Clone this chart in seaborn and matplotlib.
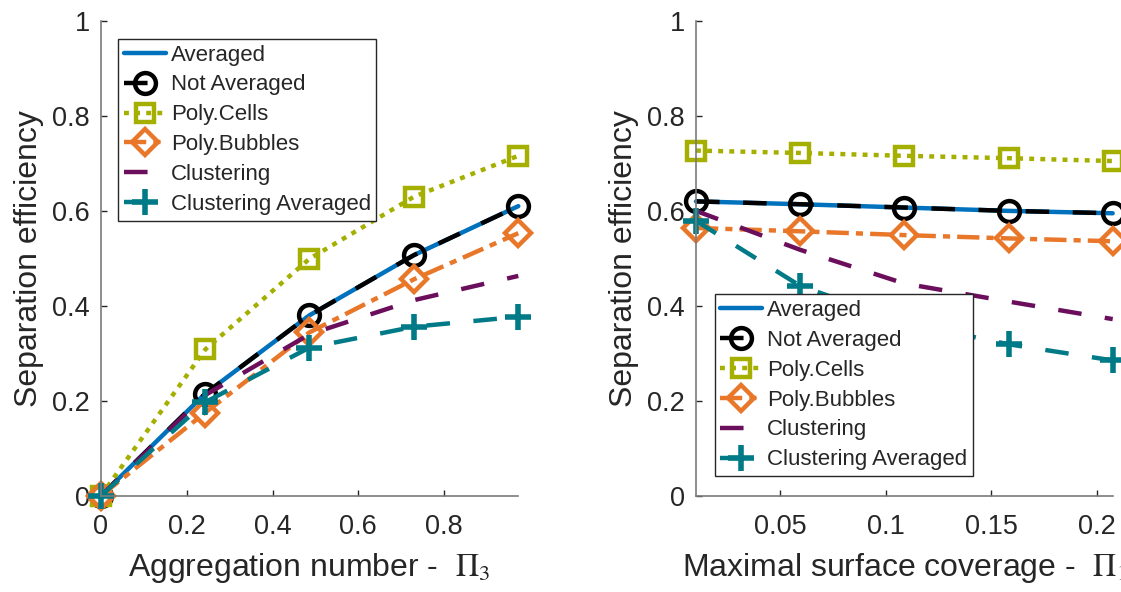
import numpy as np
import pandas as pd
import matplotlib
matplotlib.use("Agg")
import matplotlib.pyplot as plt
import seaborn as sns

# ---------------- data ----------------
series_names = ["Averaged", "Not Averaged", "Poly.Cells", "Poly.Bubbles",
                "Clustering", "Clustering Averaged"]

# Left panel: aggregation number Pi_3
x_left = [0.0, 0.243, 0.486, 0.730, 0.973]
left_averaged = [0.0, 0.215, 0.380, 0.507, 0.610]
left_not_averaged = [0.0, 0.215, 0.380, 0.507, 0.610]
left_poly_cells = [0.0, 0.308, 0.499, 0.630, 0.716]
left_poly_bubbles = [0.0, 0.175, 0.344, 0.456, 0.553]
left_clustering = [0.0, 0.212, 0.340, 0.412, 0.463]
left_clustering_avg = [0.0, 0.197, 0.312, 0.356, 0.377]

# Right panel: maximal surface coverage Pi_1
x_right = [0.0100, 0.0594, 0.1088, 0.1582, 0.2076]
right_averaged = [0.620, 0.614, 0.607, 0.600, 0.595]
right_not_averaged = [0.620, 0.614, 0.607, 0.600, 0.595]
right_poly_cells = [0.727, 0.722, 0.716, 0.711, 0.705]
right_poly_bubbles = [0.564, 0.557, 0.549, 0.542, 0.536]
right_clustering = [0.600, 0.518, 0.447, 0.409, 0.372]
right_clustering_avg = [0.579, 0.442, 0.365, 0.319, 0.285]

left_xticks = [0, 0.2, 0.4, 0.6, 0.8]
right_xticks = [0.05, 0.1, 0.15, 0.2]
yticks = [0, 0.2, 0.4, 0.6, 0.8, 1.0]

# ---------------- styling ----------------
sns.set_style("white")
plt.rcParams["font.family"] = ["Liberation Sans", "DejaVu Sans"]
plt.rcParams["mathtext.fontset"] = "stix"

LW = 3.2
styles = {
    "Averaged": dict(color="#0072BD", linestyle="-", marker=None),
    "Not Averaged": dict(color="black", linestyle=(0, (5.3, 5.3)), marker="o",
                         markersize=15),
    "Poly.Cells": dict(color="#A4AF00", linestyle=(0, (1.1, 1.4)), marker="s",
                       markersize=13),
    "Poly.Bubbles": dict(color="#E8772A", linestyle=(0, (5, 1.6, 1.6, 1.6)),
                         marker="D", markersize=13),
    "Clustering": dict(color="#6B0F5C", linestyle=(0, (5.3, 5.3)), marker=None),
    "Clustering Averaged": dict(color="#007A87", linestyle=(0, (5.3, 5.3)),
                                marker="+", markersize=19),
}

fig = plt.figure(figsize=(11.21, 5.92), dpi=100)
W, H = 1121, 592
ax_l = fig.add_axes([101 / W, 1 - 495.7 / H, (518.3 - 101) / W, (495.7 - 21) / H])
ax_r = fig.add_axes([696 / W, 1 - 495.7 / H, (1112.7 - 696) / W, (495.7 - 21) / H])


def draw(ax, x, ys):
    for name, y in zip(series_names, ys):
        st = styles[name]
        df = pd.DataFrame({"x": x, "y": y})
        kw = dict(color=st["color"], linestyle=st["linestyle"], linewidth=LW,
                  label=name, clip_on=False, dash_capstyle="butt")
        if st["marker"] is not None:
            kw.update(marker=st["marker"], markersize=st["markersize"],
                      markeredgewidth=3.2 if st["marker"] != "+" else 4.0,
                      markeredgecolor=st["color"], markerfacecolor="none")
        else:
            kw.update(markeredgewidth=0, markeredgecolor=st["color"])
        sns.lineplot(data=df, x="x", y="y", ax=ax, sort=False,
                     errorbar=None, **kw)


draw(ax_l, x_left, [left_averaged, left_not_averaged, left_poly_cells,
                    left_poly_bubbles, left_clustering, left_clustering_avg])
draw(ax_r, x_right, [right_averaged, right_not_averaged, right_poly_cells,
                     right_poly_bubbles, right_clustering, right_clustering_avg])

fmt = matplotlib.ticker.FormatStrFormatter("%g")
for ax, xt, xlim in [(ax_l, left_xticks, (0, 0.973)),
                     (ax_r, right_xticks, (0.0100, 0.2076))]:
    ax.set_xlim(*xlim)
    ax.set_ylim(0, 1)
    ax.set_xticks(xt)
    ax.set_yticks(yticks)
    ax.xaxis.set_major_formatter(fmt)
    ax.yaxis.set_major_formatter(fmt)
    for s in ["top", "right"]:
        ax.spines[s].set_visible(False)
    for s in ["left", "bottom"]:
        ax.spines[s].set_color("#7a7a7a")
        ax.spines[s].set_linewidth(1.2)
    ax.tick_params(direction="in", length=4, width=1, color="#262626",
                   labelsize=19.5, labelcolor="#262626", left=True, bottom=True)
    ax.tick_params(axis="x", pad=13)
    ax.tick_params(axis="y", pad=8)
    ax.set_ylabel("Separation efficiency", fontsize=23, color="#262626",
                  labelpad=6)
    ax.set_facecolor("white")

ax_l.set_xlabel(r"Aggregation number -  $\Pi_3$", fontsize=23,
                color="#262626", labelpad=8)
ax_r.set_xlabel(r"Maximal surface coverage -  $\Pi_1$", fontsize=23,
                color="#262626", labelpad=8)

for ax, anchor in [(ax_l, ((118 - 101) / 417.3, (495.7 - 39) / 474.7)),
                   (ax_r, ((714.7 - 696) / 416.7, (495.7 - 294.3) / 474.7))]:
    leg = ax.legend(loc="upper left", bbox_to_anchor=anchor, borderaxespad=0,
                    fontsize=16, frameon=True, fancybox=False, framealpha=1,
                    edgecolor="#262626", handlelength=1.9, handletextpad=0.22,
                    labelspacing=0.4, borderpad=0.25, numpoints=1)
    leg.get_frame().set_linewidth(1.0)
    leg.set_zorder(10)

fig.savefig("out.png", dpi=100, facecolor="white")
